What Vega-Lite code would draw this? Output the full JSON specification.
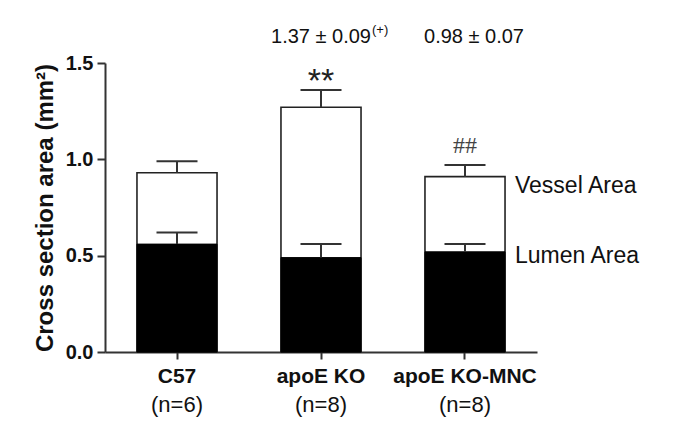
{
  "$schema": "https://vega.github.io/schema/vega-lite/v6.json",
  "width": 432,
  "height": 289,
  "autosize": {"type": "none"},
  "padding": {"left": 105, "top": 63, "right": 148, "bottom": 87},
  "background": "white",
  "config": {"view": {"stroke": null}, "font": "Liberation Sans"},
  "datasets": {
    "bars": [
      {"group": "C57", "n": "(n=6)", "vessel": 0.93, "vesselErr": 0.99, "lumen": 0.56, "lumenErr": 0.62},
      {"group": "apoE KO", "n": "(n=8)", "vessel": 1.27, "vesselErr": 1.36, "lumen": 0.49, "lumenErr": 0.56},
      {"group": "apoE KO-MNC", "n": "(n=8)", "vessel": 0.91, "vesselErr": 0.97, "lumen": 0.52, "lumenErr": 0.56}
    ],
    "notes": [
      {"group": "apoE KO", "sig": "**", "sigY": 1.40, "summary": "1.37 ± 0.09", "sup": "(+)"},
      {"group": "apoE KO-MNC", "sig": "##", "sigY": 1.07, "summary": "0.98 ± 0.07", "sup": ""}
    ],
    "labels": [
      {"group": "apoE KO-MNC", "label": "Vessel Area", "y": 0.86},
      {"group": "apoE KO-MNC", "label": "Lumen Area", "y": 0.5}
    ]
  },
  "resolve": {"axis": {"x": "independent"}},
  "layer": [
    {
      "data": {"name": "bars"},
      "mark": {"type": "bar", "fill": "white", "stroke": "#222", "strokeWidth": 1.6},
      "encoding": {
        "x": {
          "field": "group", "type": "nominal", "sort": null,
          "scale": {"paddingInner": 0.444, "paddingOuter": 0.222},
          "axis": {
            "title": null, "orient": "bottom", "labelAngle": 0,
            "labelFont": "Liberation Sans", "labelFontWeight": "bold", "labelFontSize": 21, "labelColor": "#111",
            "labelPadding": 6, "tickSize": 7, "tickColor": "#333", "tickWidth": 2,
            "domainColor": "#333", "domainWidth": 2
          }
        },
        "y": {
          "field": "vessel", "type": "quantitative",
          "scale": {"domain": [0, 1.5], "nice": false},
          "axis": {
            "title": "Cross section area (mm²)", "titleFont": "Liberation Sans", "titleFontSize": 24, "titleFontWeight": "bold",
            "titleColor": "#111", "titlePadding": 8,
            "values": [0, 0.5, 1, 1.5], "format": ".1f", "grid": false,
            "labelFont": "Liberation Sans", "labelFontWeight": "bold", "labelFontSize": 20, "labelColor": "#111",
            "tickSize": 8, "tickColor": "#333", "tickWidth": 2, "labelPadding": 4,
            "domainColor": "#333", "domainWidth": 2
          }
        }
      }
    },
    {
      "data": {"name": "bars"},
      "mark": {"type": "bar", "fill": "black", "stroke": "black", "strokeWidth": 1},
      "encoding": {
        "x": {"field": "group", "type": "nominal", "sort": null, "axis": {
            "title": null, "orient": "bottom", "labelAngle": 0, "domain": false, "ticks": false,
            "labelExpr": "datum.label == 'C57' ? '(n=6)' : '(n=8)'",
            "labelFont": "Liberation Sans", "labelFontWeight": "normal", "labelFontSize": 22, "labelColor": "#111",
            "labelPadding": 42
        }},
        "y": {"field": "lumen", "type": "quantitative"}
      }
    },
    {
      "data": {"name": "bars"},
      "mark": {"type": "rule", "stroke": "#333", "strokeWidth": 2},
      "encoding": {
        "x": {"field": "group", "type": "nominal", "sort": null, "axis": null},
        "y": {"field": "vessel", "type": "quantitative"},
        "y2": {"field": "vesselErr"}
      }
    },
    {
      "data": {"name": "bars"},
      "mark": {"type": "tick", "color": "#333", "thickness": 2, "size": 41, "opacity": 1},
      "encoding": {
        "x": {"field": "group", "type": "nominal", "sort": null, "axis": null},
        "y": {"field": "vesselErr", "type": "quantitative"}
      }
    },
    {
      "data": {"name": "bars"},
      "mark": {"type": "rule", "stroke": "#333", "strokeWidth": 2},
      "encoding": {
        "x": {"field": "group", "type": "nominal", "sort": null, "axis": null},
        "y": {"field": "lumen", "type": "quantitative"},
        "y2": {"field": "lumenErr"}
      }
    },
    {
      "data": {"name": "bars"},
      "mark": {"type": "tick", "color": "#333", "thickness": 2, "size": 41, "opacity": 1},
      "encoding": {
        "x": {"field": "group", "type": "nominal", "sort": null, "axis": null},
        "y": {"field": "lumenErr", "type": "quantitative"}
      }
    },
    {
      "data": {"name": "notes"},
      "mark": {"type": "text", "font": "Liberation Sans", "fontSize": 34, "baseline": "middle", "color": "#222"},
      "transform": [{"filter": "datum.sig == '**'"}],
      "encoding": {
        "x": {"field": "group", "type": "nominal", "sort": null, "axis": null},
        "y": {"field": "sigY", "type": "quantitative"},
        "text": {"field": "sig"}
      }
    },
    {
      "data": {"name": "notes"},
      "mark": {"type": "text", "font": "Liberation Serif", "fontSize": 24, "baseline": "middle", "color": "#444"},
      "transform": [{"filter": "datum.sig == '##'"}],
      "encoding": {
        "x": {"field": "group", "type": "nominal", "sort": null, "axis": null},
        "y": {"field": "sigY", "type": "quantitative"},
        "text": {"field": "sig"}
      }
    },
    {
      "data": {"name": "notes"},
      "mark": {"type": "text", "font": "Liberation Sans", "fontSize": 20, "baseline": "middle", "color": "#111"},
      "transform": [{"filter": "datum.sig == '**'"}],
      "encoding": {
        "x": {"field": "group", "type": "nominal", "sort": null, "axis": null},
        "y": {"datum": 1.635, "type": "quantitative"},
        "text": {"field": "summary"}
      }
    },
    {
      "data": {"name": "notes"},
      "mark": {"type": "text", "font": "Liberation Sans", "fontSize": 20, "baseline": "middle", "color": "#111", "dx": 9},
      "transform": [{"filter": "datum.sig == '##'"}],
      "encoding": {
        "x": {"field": "group", "type": "nominal", "sort": null, "axis": null},
        "y": {"datum": 1.635, "type": "quantitative"},
        "text": {"field": "summary"}
      }
    },
    {
      "data": {"name": "notes"},
      "mark": {"type": "text", "font": "Liberation Sans", "fontSize": 13, "baseline": "middle", "align": "left", "color": "#111", "dx": 51},
      "encoding": {
        "x": {"field": "group", "type": "nominal", "sort": null, "axis": null},
        "y": {"datum": 1.67, "type": "quantitative"},
        "text": {"field": "sup"}
      }
    },
    {
      "data": {"name": "labels"},
      "mark": {"type": "text", "font": "Liberation Sans", "fontSize": 23, "baseline": "middle", "align": "left", "color": "#111", "dx": 50},
      "encoding": {
        "x": {"field": "group", "type": "nominal", "sort": null, "axis": null},
        "y": {"field": "y", "type": "quantitative"},
        "text": {"field": "label"}
      }
    }
  ]
}
